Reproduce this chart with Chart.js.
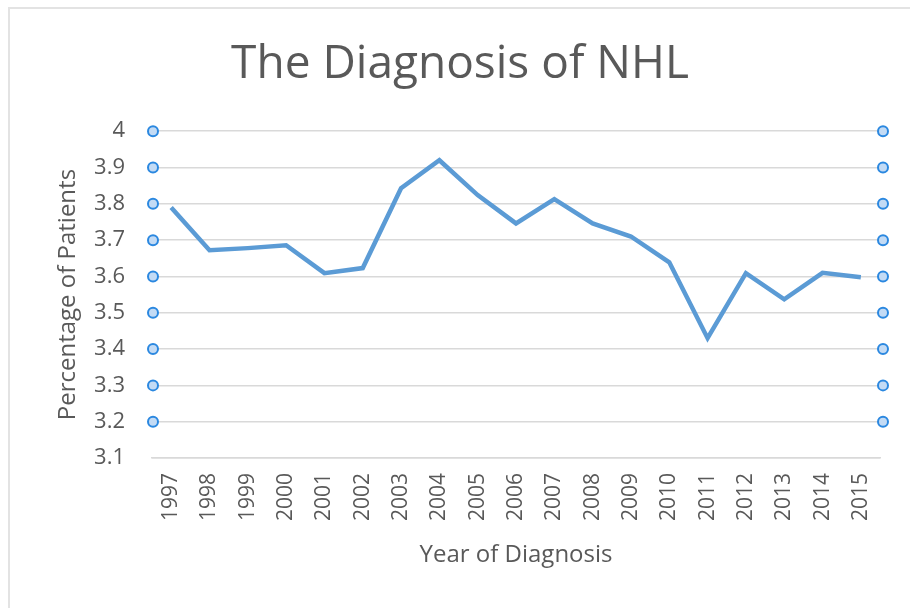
<!DOCTYPE html>
<html>
<head>
<meta charset="utf-8">
<title>The Diagnosis of NHL</title>
<script src="https://cdn.jsdelivr.net/npm/chart.js@4/dist/chart.umd.min.js"></script>
<style>
  html, body { margin: 0; padding: 0; background: #fff; }
  #frame {
    position: absolute; left: 8px; top: 7px; width: 910px; height: 608px;
    border-top: 2px solid #e3e3e3; border-left: 2px solid #e3e3e3;
  }
  #wrap { position: absolute; left: 0; top: 0; width: 910px; height: 608px; }
</style>
</head>
<body>
<div id="frame"></div>
<div id="wrap"><canvas id="chart" width="910" height="608"></canvas></div>
<script>
'use strict';

var years = ['1997', '1998', '1999', '2000', '2001', '2002', '2003', '2004', '2005', '2006',
             '2007', '2008', '2009', '2010', '2011', '2012', '2013', '2014', '2015'];
var percentPatients = [3.79, 3.672, 3.678, 3.686, 3.609, 3.623, 3.843, 3.92, 3.824, 3.746,
                       3.813, 3.746, 3.71, 3.639, 3.43, 3.609, 3.537, 3.61, 3.598];
var handleValues = [3.2, 3.3, 3.4, 3.5, 3.6, 3.7, 3.8, 3.9, 4.0];

var textGrey = '#595959';

// little selection circles at both ends of the gridlines
var handlesPlugin = {
  id: 'handles',
  afterDraw: function (chart) {
    var ctx = chart.ctx;
    var y = chart.scales.y;
    var area = chart.chartArea;
    ctx.save();
    handleValues.forEach(function (v) {
      var py = y.getPixelForValue(v);
      [area.left + 1, area.right + 3].forEach(function (px) {
        ctx.beginPath();
        ctx.arc(px, py, 5, 0, Math.PI * 2);
        ctx.fillStyle = '#c3dbf5';
        ctx.fill();
        ctx.lineWidth = 2;
        ctx.strokeStyle = '#2b88e0';
        ctx.stroke();
      });
    });
    ctx.restore();
  }
};

var ctx = document.getElementById('chart').getContext('2d');
var chart = new Chart(ctx, {
    type: 'line',
    data: {
        labels: years,
        datasets: [{
            label: 'Percentage of Patients',
            data: percentPatients,
            borderColor: '#5b9bd5',
            borderWidth: 4.5,
            pointRadius: 0,
            tension: 0,
            fill: false
        }]
    },
    options: {
        responsive: false,
        animation: false,
        layout: { padding: { left: 40, right: 30, top: 0, bottom: 30 } },
        plugins: {
            legend: { display: false },
            tooltip: { enabled: false },
            title: {
                display: true,
                text: 'The Diagnosis of NHL',
                color: textGrey,
                font: { family: 'Open Sans', size: 46, weight: 'normal' },
                padding: { top: 37, bottom: 39 }
            }
        },
        scales: {
            x: {
                offset: true,
                grid: { display: false, drawTicks: false },
                border: { display: true, color: '#d9d9d9', width: 1.5 },
                ticks: {
                    color: textGrey,
                    font: { family: 'Open Sans', size: 21 },
                    maxRotation: 90, minRotation: 90,
                    padding: 15,
                    autoSkip: false
                },
                title: {
                    display: true,
                    text: 'Year of Diagnosis',
                    color: textGrey,
                    font: { family: 'Open Sans', size: 24 },
                    padding: { top: 0, bottom: 8 }
                },
                afterFit: function (scale) { scale.height = 120; }
            },
            y: {
                min: 3.1,
                max: 4,
                grid: { color: '#d9d9d9', lineWidth: 1.5, drawTicks: false },
                border: { display: false },
                ticks: {
                    stepSize: 0.1,
                    color: textGrey,
                    font: { family: 'Open Sans', size: 22 },
                    padding: 27,
                    callback: function (v) { return Math.round(v * 10) / 10; }
                },
                title: {
                    display: true,
                    text: 'Percentage of Patients',
                    color: textGrey,
                    font: { family: 'Open Sans', size: 24 },
                    padding: { top: 14, bottom: 0 }
                },
                afterFit: function (scale) { scale.width = 112; }
            }
        }
    },
    plugins: [handlesPlugin]
});
</script>
</body>
</html>
